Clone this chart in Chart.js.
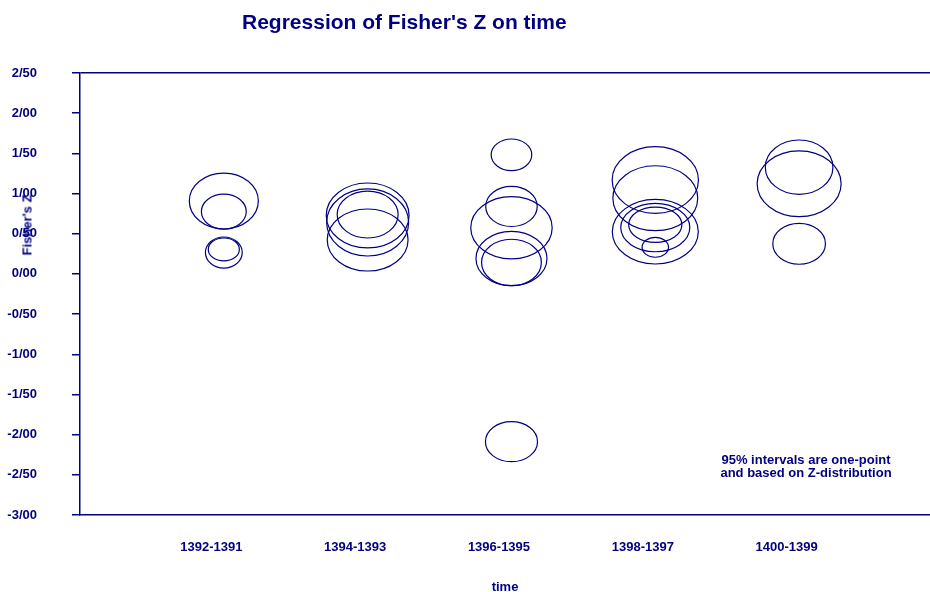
<!DOCTYPE html>
<html>
<head>
<meta charset="utf-8">
<script src="https://cdn.jsdelivr.net/npm/chart.js@4"></script>
<style>
  html, body { margin: 0; padding: 0; background: #fff; }
  .wrap { position: relative; width: 930px; height: 592px; font-family: 'Liberation Sans', Arial, sans-serif; color: #000080; }
  canvas { position: absolute; left: 0; top: 0; }
  .title { position: absolute; left: 242px; top: 10px; font-size: 21px; font-weight: bold; white-space: nowrap; }
  .ytitle { position: absolute; left: 27px; top: 225px; font-size: 13px; font-weight: bold; white-space: nowrap;
            transform: translate(-50%, -50%) rotate(-90deg); }
  .note { position: absolute; left: 806px; top: 453px; transform: translateX(-50%); font-size: 13px; font-weight: bold;
          text-align: center; line-height: 13px; white-space: nowrap; }
</style>
</head>
<body>
<div class="wrap">
  <canvas id="chart" width="930" height="592"></canvas>
  <div class="title">Regression of Fisher's Z on time</div>
  <div class="ytitle">Fisher's Z</div>
  <div class="note">95% intervals are one-point<br>and based on Z-distribution</div>
</div>
<script>
/* Fisher's Z by time period, drawn as ellipses */

const NAVY = '#000080';
const periods = ['1392-1391', '1394-1393', '1396-1395', '1398-1397', '1400-1399'];
const yTicks = [-3, -2.5, -2, -1.5, -1, -0.5, 0, 0.5, 1, 1.5, 2, 2.5];

// one entry per study estimate
const periodIndex = [1, 1, 1, 1,
  2, 2, 2, 2,
  3, 3, 3, 3, 3, 3,
  4, 4, 4, 4, 4, 4,
  5, 5, 5];
const fisherZ = [0.907, 0.776, 0.266, 0.304,
  0.739, 0.727, 0.640, 0.422,
  1.482, 0.839, 0.574, 0.192, 0.142, -2.088,
  1.168, 0.942, 0.525, 0.577, 0.612, 0.331,
  1.328, 1.121, 0.375];
// half-height of each ellipse, in Z units
const zHalf = [0.348, 0.218, 0.193, 0.143,
  0.292, 0.404, 0.417, 0.386,
  0.197, 0.249, 0.388, 0.338, 0.289, 0.249,
  0.415, 0.404, 0.402, 0.301, 0.220, 0.124,
  0.338, 0.409, 0.255];
// half-width of each ellipse, in time-axis units
const tHalf = [0.240, 0.156, 0.128, 0.108,
  0.212, 0.288, 0.285, 0.281,
  0.141, 0.179, 0.283, 0.247, 0.208, 0.181,
  0.300, 0.295, 0.299, 0.240, 0.185, 0.092,
  0.235, 0.292, 0.183];

const points = periodIndex.map((p, i) => ({ x: p, y: fisherZ[i], w: tHalf[i], h: zHalf[i] }));

const ellipses = {
  id: 'ellipses',
  afterDatasetsDraw(chart) {
    const { ctx, scales: { x, y } } = chart;
    const meta = chart.getDatasetMeta(0);
    ctx.save();
    ctx.strokeStyle = NAVY;
    ctx.lineWidth = 1.2;
    meta.data.forEach((el, i) => {
      const d = chart.data.datasets[0].data[i];
      const rx = x.getPixelForValue(d.x + d.w) - el.x;
      const ry = y.getPixelForValue(d.y - d.h) - el.y;
      ctx.beginPath();
      ctx.ellipse(el.x, el.y, rx, ry, 0, 0, Math.PI * 2);
      ctx.stroke();
    });
    ctx.restore();
  }
};

Chart.defaults.font.family = "'Liberation Sans', Arial, sans-serif";
Chart.defaults.color = NAVY;

new Chart(document.getElementById('chart'), {
  type: 'scatter',
  data: { datasets: [{ data: points, pointRadius: 0, pointHoverRadius: 0 }] },
  options: {
    responsive: false,
    animation: false,
    layout: { padding: { top: 73, left: 0, right: 0, bottom: 0 } },
    plugins: { legend: { display: false }, tooltip: { enabled: false } },
    scales: {
      x: {
        type: 'linear', min: 0, max: 5.91,
        afterBuildTicks: s => { s.ticks = periods.map((_, i) => ({ value: i + 1 })); },
        afterFit: s => { s.height = 77; },
        ticks: {
          callback: v => periods[v - 1] || '',
          font: { size: 13, weight: 'bold' }, padding: 25, labelOffset: -12.5,
          maxRotation: 0, autoSkip: false
        },
        grid: { drawOnChartArea: false, drawTicks: false },
        border: { color: NAVY, width: 1.5 },
        title: { display: true, text: 'time', font: { size: 13, weight: 'bold' }, padding: { top: 0, bottom: -3 } }
      },
      y: {
        min: -3, max: 2.5,
        afterBuildTicks: s => { s.ticks = yTicks.map(v => ({ value: v })); },
        afterFit: s => { s.width = 80; },
        ticks: {
          callback: v => v.toFixed(2).replace('.', '/'),
          font: { size: 13, weight: 'bold' }, padding: 35
        },
        grid: {
          color: c => (c.tick && c.tick.value === 2.5) ? NAVY : 'rgba(0,0,0,0)',
          lineWidth: 1.5, tickColor: NAVY, tickLength: 8, tickWidth: 1.5
        },
        border: { color: NAVY, width: 1.5 }
      }
    }
  },
  plugins: [ellipses]
});
</script>
</body>
</html>
